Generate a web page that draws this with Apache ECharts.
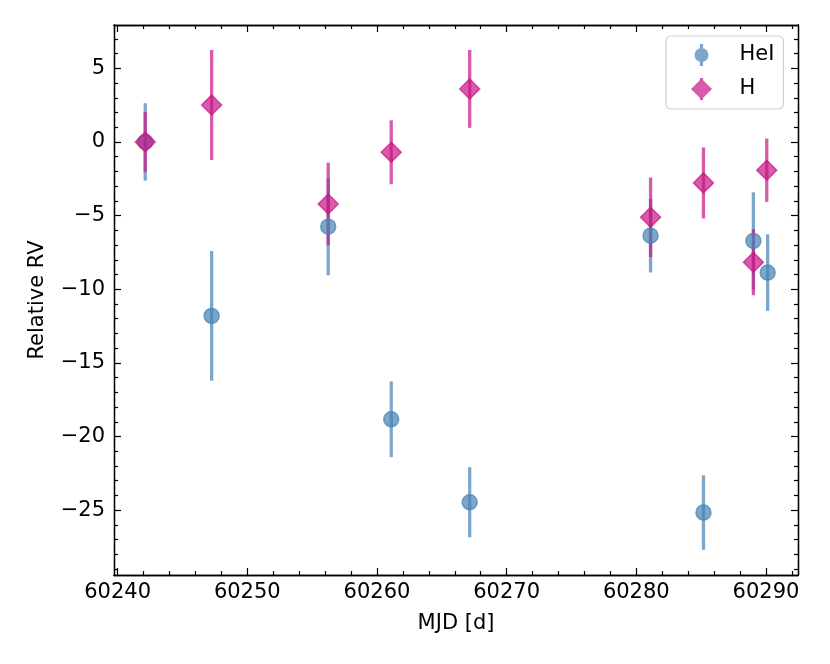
<!DOCTYPE html>
<html lang="en">
<head>
    <meta charset="UTF-8">
    <title>Relative RV</title>
    <script src="https://cdn.jsdelivr.net/npm/echarts@6.0.0/dist/echarts.min.js"></script>
    <style>
        html, body { margin: 0; padding: 0; background: #fff; }
        #chart { width: 830px; height: 664px; }
    </style>
</head>
<body>
    <div id="chart"></div>
    <script>
        // HeI measurements
        const heMjd = [60242.13, 60247.25, 60256.24, 60261.1, 60267.15, 60281.1, 60285.18, 60289.03, 60290.13];
        const heRv  = [0, -11.81, -5.75, -18.83, -24.46, -6.36, -25.16, -6.72, -8.87];
        const heErr = [2.63, 4.4, 3.3, 2.57, 2.38, 2.5, 2.53, 3.3, 2.6];

        // H measurements
        const hMjd = [60242.13, 60247.25, 60256.24, 60261.1, 60267.15, 60281.1, 60285.18, 60289.03, 60290.06];
        const hRv  = [0, 2.51, -4.21, -0.7, 3.6, -5.11, -2.78, -8.17, -1.92];
        const hErr = [2.03, 3.73, 2.8, 2.17, 2.64, 2.7, 2.41, 2.24, 2.15];

        // axis ticks
        const xMajor = [60240, 60250, 60260, 60270, 60280, 60290];
        const xMinor = [60242, 60244, 60246, 60248, 60252, 60254, 60256, 60258, 60262, 60264, 60266, 60268,
                        60272, 60274, 60276, 60278, 60282, 60284, 60286, 60288, 60292];
        const yMajor = [-25, -20, -15, -10, -5, 0, 5];
        const yMinor = [-29, -28, -27, -26, -24, -23, -22, -21, -19, -18, -17, -16, -14, -13, -12, -11,
                        -9, -8, -7, -6, -4, -3, -2, -1, 1, 2, 3, 4, 6, 7];

        const X_MIN = 60239.72, X_MAX = 60292.47;
        const Y_MIN = -29.4, Y_MAX = 7.94;

        const blue = 'rgba(70,130,180,0.7)';
        const pink = 'rgba(199,21,133,0.7)';
        const FONT = 'DejaVu Sans';
        const FS = 21;

        function tickAxis(pos, min, max, values, len, labels) {
            const ax = {
                type: 'value', position: pos, min: min, max: max,
                splitLine: { show: false },
                axisLine: { show: true, onZero: false, lineStyle: { color: '#000', width: 1.3 } },
                axisTick: { show: true, inside: true, length: len, customValues: values,
                            lineStyle: { color: '#000', width: 1.2 } },
                axisLabel: { show: false }
            };
            if (labels) {
                ax.axisLabel = {
                    show: true, customValues: values, color: '#000',
                    fontFamily: FONT, fontSize: FS,
                    formatter: v => String(v).replace('-', '\u2212')
                };
            }
            return ax;
        }

        const xAxes = [
            tickAxis('bottom', X_MIN, X_MAX, xMajor, 7, true),
            tickAxis('bottom', X_MIN, X_MAX, xMinor, 4, false),
            tickAxis('top', X_MIN, X_MAX, xMajor, 7, false),
            tickAxis('top', X_MIN, X_MAX, xMinor, 4, false)
        ];
        xAxes[0].axisLabel.margin = 7;
        xAxes[0].name = 'MJD [d]';
        xAxes[0].nameLocation = 'middle';
        xAxes[0].nameGap = 38;
        xAxes[0].nameTextStyle = { color: '#000', fontFamily: FONT, fontSize: FS };

        const yAxes = [
            tickAxis('left', Y_MIN, Y_MAX, yMajor, 7, true),
            tickAxis('left', Y_MIN, Y_MAX, yMinor, 4, false),
            tickAxis('right', Y_MIN, Y_MAX, yMajor, 7, false),
            tickAxis('right', Y_MIN, Y_MAX, yMinor, 4, false)
        ];
        yAxes[0].axisLabel.margin = 9;
        yAxes[0].name = 'Relative RV';
        yAxes[0].nameLocation = 'middle';
        yAxes[0].nameGap = 66;
        yAxes[0].nameTextStyle = { color: '#000', fontFamily: FONT, fontSize: FS };

        function errData(xs, ys, es) {
            return xs.map((x, i) => [x, ys[i] - es[i], ys[i] + es[i]]);
        }

        function errSeries(name, xs, ys, es, color) {
            return {
                name: name, type: 'custom', xAxisIndex: 0, yAxisIndex: 0,
                data: errData(xs, ys, es),
                encode: { x: 0, y: [1, 2] },
                renderItem: function (params, api) {
                    const lo = api.coord([api.value(0), api.value(1)]);
                    const hi = api.coord([api.value(0), api.value(2)]);
                    return {
                        type: 'line',
                        shape: { x1: lo[0], y1: lo[1], x2: hi[0], y2: hi[1] },
                        style: { stroke: color, lineWidth: 3.3 }
                    };
                },
                silent: true
            };
        }

        const circleIcon = 'path://M5.4,0 L8.6,0 L8.6,22 L5.4,22 Z M0,11 A7,7 0 1,1 14,11 A7,7 0 1,1 0,11 Z';
        const diamondIcon = 'path://M9.4,0 L12.6,0 L12.6,22 L9.4,22 Z M11,0.5 L21.5,11 L11,21.5 L0.5,11 Z';

        const chart = echarts.init(document.getElementById('chart'), null, { renderer: 'canvas' });
        chart.setOption({
            animation: false,
            backgroundColor: '#fff',
            textStyle: { fontFamily: FONT },
            grid: { left: 114, right: 32, top: 25, bottom: 89, containLabel: false },
            xAxis: xAxes,
            yAxis: yAxes,
            legend: {
                orient: 'vertical', left: 666, top: 36,
                padding: [8, 9, 9, 25],
                itemGap: 12,
                itemWidth: 22, itemHeight: 22,
                borderColor: '#d0d0d0', borderWidth: 1.2, borderRadius: 5,
                backgroundColor: 'rgba(255,255,255,0.8)',
                textStyle: { color: '#000', fontFamily: FONT, fontSize: FS, padding: [0, 0, 0, 22] },
                data: [
                    { name: 'HeI', icon: circleIcon, itemStyle: { color: blue, borderWidth: 0 } },
                    { name: 'H', icon: diamondIcon, itemStyle: { color: pink, borderWidth: 0 } }
                ]
            },
            series: [
                errSeries('HeI', heMjd, heRv, heErr, blue),
                {
                    name: 'HeI', type: 'scatter', xAxisIndex: 0, yAxisIndex: 0,
                    symbol: 'circle', symbolSize: 15,
                    itemStyle: { color: blue, borderColor: blue, borderWidth: 1.5, opacity: 1 },
                    data: heMjd.map((x, i) => [x, heRv[i]])
                },
                errSeries('H', hMjd, hRv, hErr, pink),
                {
                    name: 'H', type: 'scatter', xAxisIndex: 0, yAxisIndex: 0,
                    symbol: 'diamond', symbolSize: 20,
                    itemStyle: { color: pink, borderColor: pink, borderWidth: 1.5, opacity: 1 },
                    data: hMjd.map((x, i) => [x, hRv[i]])
                }
            ]
        });
    </script>
</body>
</html>
